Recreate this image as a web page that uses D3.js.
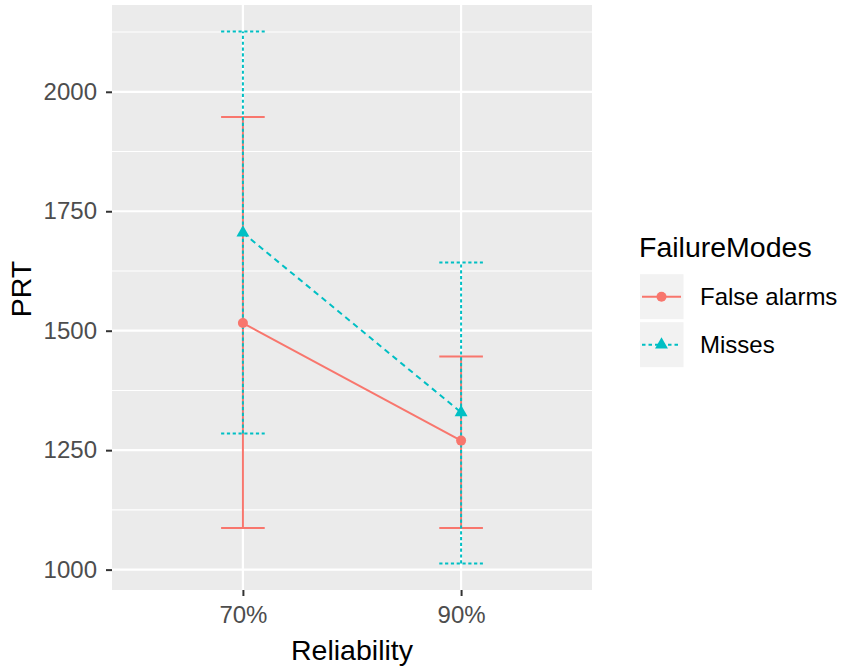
<!DOCTYPE html>
<html>
<head>
<meta charset="utf-8">
<script src="https://cdn.jsdelivr.net/npm/d3@7"></script>
<style>
  body { margin: 0; background: #ffffff; }
  text { font-family: "Liberation Sans", Arial, sans-serif; }
</style>
</head>
<body>
<svg id="chart" width="848" height="671"></svg>
<script>
// Reliability levels on the x axis
const reliability = ["70%", "90%"];
// Failure-mode groups
const failureModes = ["False alarms", "Misses"];
// Mean PRT and error-bar limits per reliability level
const falseAlarmsMean  = [1516, 1270];
const falseAlarmsLower = [1087, 1087];
const falseAlarmsUpper = [1947, 1446];
const missesMean  = [1705, 1329];
const missesLower = [1285, 1013];
const missesUpper = [2126, 1643];
// Axis ticks
const yTicks = [1000, 1250, 1500, 1750, 2000];

const series = [
  { name: failureModes[0], mean: falseAlarmsMean, lower: falseAlarmsLower, upper: falseAlarmsUpper,
    color: "#F8766D", barDash: null, lineDash: null, keyDash: null, shape: "circle" },
  { name: failureModes[1], mean: missesMean, lower: missesLower, upper: missesUpper,
    color: "#00BFC4", barDash: "3.2,2.6", lineDash: "5.8,4.4", keyDash: "3.5,3", shape: "triangle" }
];

const svg = d3.select("#chart");
const panel = { left: 112, right: 592, top: 5, bottom: 590 };

// y domain: data range expanded by 5% on each side
const allVals = series.flatMap(s => s.lower.concat(s.upper));
const lo = d3.min(allVals), hi = d3.max(allVals), pad = (hi - lo) * 0.05;
const y = d3.scaleLinear().domain([lo - pad, hi + pad]).range([panel.bottom, panel.top]);
const x = d3.scalePoint().domain(reliability).range([panel.left, panel.right]).padding(0.6);
const capHalf = x.step() * 0.1;

// panel background
svg.append("rect")
  .attr("x", panel.left).attr("y", panel.top)
  .attr("width", panel.right - panel.left).attr("height", panel.bottom - panel.top)
  .attr("fill", "#EBEBEB");

// minor gridlines halfway between major ticks
const step = yTicks[1] - yTicks[0];
const minor = d3.range(yTicks[0] - step / 2, hi + pad, step)
  .filter(v => v > y.domain()[0] && v < y.domain()[1]);
svg.append("g").selectAll("line").data(minor).join("line")
  .attr("x1", panel.left).attr("x2", panel.right)
  .attr("y1", d => y(d)).attr("y2", d => y(d))
  .attr("stroke", "#ffffff").attr("stroke-width", 1.1);

// major gridlines
svg.append("g").selectAll("line").data(yTicks).join("line")
  .attr("x1", panel.left).attr("x2", panel.right)
  .attr("y1", d => y(d)).attr("y2", d => y(d))
  .attr("stroke", "#ffffff").attr("stroke-width", 2.2);
svg.append("g").selectAll("line").data(reliability).join("line")
  .attr("x1", d => x(d)).attr("x2", d => x(d))
  .attr("y1", panel.top).attr("y2", panel.bottom)
  .attr("stroke", "#ffffff").attr("stroke-width", 2.2);

// error bars
series.forEach(s => {
  const g = svg.append("g")
    .attr("stroke", s.color).attr("stroke-width", 2).attr("fill", "none")
    .attr("stroke-dasharray", s.barDash);
  reliability.forEach((r, i) => {
    const cx = x(r);
    g.append("line").attr("x1", cx).attr("x2", cx).attr("y1", y(s.lower[i])).attr("y2", y(s.upper[i]));
    g.append("line").attr("x1", cx - capHalf).attr("x2", cx + capHalf).attr("y1", y(s.upper[i])).attr("y2", y(s.upper[i]));
    g.append("line").attr("x1", cx - capHalf).attr("x2", cx + capHalf).attr("y1", y(s.lower[i])).attr("y2", y(s.lower[i]));
  });
});

// mean lines
const line = d3.line().x((d, i) => x(reliability[i])).y(d => y(d));
series.forEach(s => {
  svg.append("path").datum(s.mean).attr("d", line)
    .attr("fill", "none").attr("stroke", s.color).attr("stroke-width", 2)
    .attr("stroke-dasharray", s.lineDash);
});

// points
const triangle = d3.symbol().type(d3.symbolTriangle).size(72);
series.forEach(s => {
  s.mean.forEach((v, i) => {
    if (s.shape === "circle") {
      svg.append("circle").attr("cx", x(reliability[i])).attr("cy", y(v)).attr("r", 5).attr("fill", s.color);
    } else {
      svg.append("path").attr("d", triangle())
        .attr("transform", `translate(${x(reliability[i])},${y(v)})`).attr("fill", s.color);
    }
  });
});

// y axis
const yAxis = svg.append("g").attr("transform", `translate(${panel.left},0)`)
  .call(d3.axisLeft(y).tickValues(yTicks).tickSize(6).tickPadding(9).tickFormat(d3.format("d")));
yAxis.select(".domain").remove();
yAxis.selectAll(".tick line").attr("stroke", "#333333").attr("stroke-width", 2);
yAxis.selectAll(".tick text").attr("fill", "#4D4D4D").style("font-size", "24px")
  .style("font-family", "'Liberation Sans', Arial, sans-serif");

// x axis
const xAxis = svg.append("g").attr("transform", `translate(0,${panel.bottom})`)
  .call(d3.axisBottom(x).tickSize(6).tickPadding(10));
xAxis.select(".domain").remove();
xAxis.selectAll(".tick line").attr("stroke", "#333333").attr("stroke-width", 2);
xAxis.selectAll(".tick text").attr("fill", "#4D4D4D").style("font-size", "24px")
  .style("font-family", "'Liberation Sans', Arial, sans-serif");

// axis titles
svg.append("text").attr("x", (panel.left + panel.right) / 2).attr("y", 660)
  .attr("text-anchor", "middle").attr("font-size", 28.5).attr("fill", "#000").text("Reliability");
svg.append("text").attr("transform", `translate(31,${289}) rotate(-90)`)
  .attr("text-anchor", "middle").attr("font-size", 28.5).attr("fill", "#000").text("PRT");

// legend
const legend = svg.append("g").attr("transform", "translate(639,0)");
legend.append("text").attr("x", 0).attr("y", 257).attr("font-size", 28.5).attr("fill", "#000").text("FailureModes");
series.forEach((s, i) => {
  const cy = 296.7 + i * 48;
  legend.append("rect").attr("x", 1).attr("y", cy - 22.5).attr("width", 43.5).attr("height", 45).attr("fill", "#F2F2F2");
  legend.append("line").attr("x1", 3).attr("x2", 42).attr("y1", cy).attr("y2", cy)
    .attr("stroke", s.color).attr("stroke-width", 2).attr("stroke-dasharray", s.keyDash);
  if (s.shape === "circle") {
    legend.append("circle").attr("cx", 22.5).attr("cy", cy).attr("r", 5).attr("fill", s.color);
  } else {
    legend.append("path").attr("d", triangle()).attr("transform", `translate(22.5,${cy})`).attr("fill", s.color);
  }
  legend.append("text").attr("x", 61).attr("y", cy).attr("dy", "0.35em")
    .attr("font-size", 24).attr("fill", "#000").text(s.name);
});
</script>
</body>
</html>
